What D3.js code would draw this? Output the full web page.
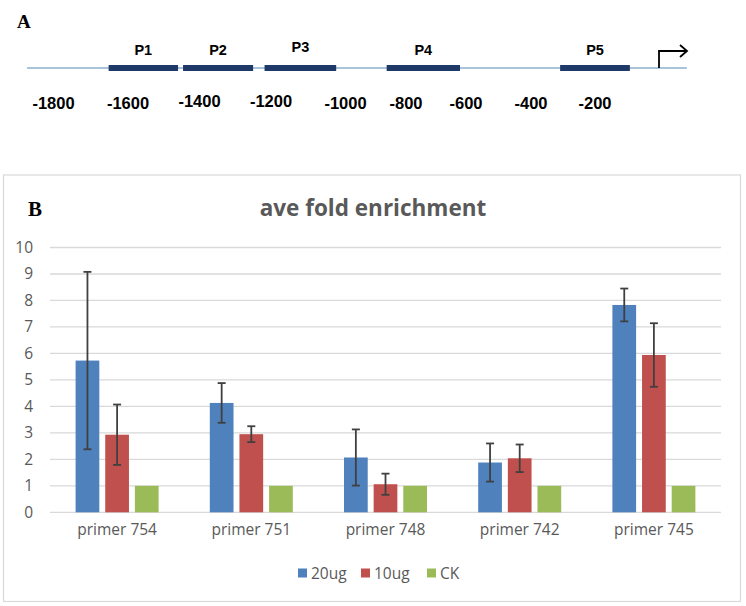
<!DOCTYPE html>
<html>
<head>
<meta charset="utf-8">
<script src="https://cdn.jsdelivr.net/npm/d3@7"></script>
<style>
html,body{margin:0;padding:0;background:#fff;}
svg{display:block;}
</style>
</head>
<body>
<svg id="chart" width="746" height="606"></svg>
<script>
// ---------- Panel A data ----------
const genomeTicks = [-1800, -1600, -1400, -1200, -1000, -800, -600, -400, -200];
const primerNames = ["P1", "P2", "P3", "P4", "P5"];
const primerStart = [-1652, -1446, -1218, -864, -309];
const primerEnd   = [-1460, -1250, -1025, -620, -91];
const regionStart = -1871, regionEnd = 87, tss = 0;

// ---------- Panel B data ----------
const categories = ["primer 754", "primer 751", "primer 748", "primer 742", "primer 745"];
const seriesNames = ["20ug", "10ug", "CK"];
const values20 = [5.73, 4.13, 2.07, 1.88, 7.83];
const values10 = [2.93, 2.95, 1.06, 2.04, 5.94];
const valuesCK = [1, 1, 1, 1, 1];
const err20 = [3.35, 0.75, 1.06, 0.72, 0.62];
const err10 = [1.14, 0.30, 0.40, 0.52, 1.20];
const errCK = [0, 0, 0, 0, 0];
const yTicks = [0, 1, 2, 3, 4, 5, 6, 7, 8, 9, 10];
const colors = ["#4f81bd", "#c0504d", "#9bbb59"];

const svg = d3.select("#chart");

// ================= Panel A =================
// schematic (non-uniform) coordinate mapping
const gx = d3.scaleLinear()
  .domain([-1800, -1600, -1400, -1200, -1000, -800, -600, -400, -200, 0])
  .range([53.5, 128, 199.5, 271, 345.5, 406, 466, 531, 595, 659]);
const lineY = 68;

svg.append("text").attr("x", 17).attr("y", 28)
  .attr("font-family", "Liberation Serif, Times New Roman, serif")
  .attr("font-weight", "bold").attr("font-size", 19).attr("fill", "#000").text("A");

svg.append("line")
  .attr("x1", gx(regionStart)).attr("x2", gx(regionEnd))
  .attr("y1", lineY).attr("y2", lineY)
  .attr("stroke", "#a9c3d8").attr("stroke-width", 2);

const primers = primerNames.map((n, i) => ({name: n, s: primerStart[i], e: primerEnd[i]}));
svg.selectAll("rect.primer").data(primers).enter().append("rect")
  .attr("class", "primer")
  .attr("x", d => gx(d.s)).attr("width", d => gx(d.e) - gx(d.s))
  .attr("y", lineY - 3).attr("height", 6)
  .attr("fill", "#1f3a68");

svg.selectAll("text.plabel").data(primers).enter().append("text")
  .attr("class", "plabel")
  .attr("x", d => (gx(d.s) + gx(d.e)) / 2)
  .attr("y", (d, i) => i === 2 ? 52 : 55)
  .attr("text-anchor", "middle")
  .attr("font-family", "Liberation Sans, Arial, sans-serif")
  .attr("font-weight", "bold").attr("font-size", 14.5).attr("fill", "#000")
  .text(d => d.name);

svg.selectAll("text.gtick").data(genomeTicks).enter().append("text")
  .attr("class", "gtick")
  .attr("x", d => gx(d))
  .attr("y", d => (d === -1400 || d === -1200) ? 107 : 109)
  .attr("text-anchor", "middle")
  .attr("font-family", "Liberation Sans, Arial, sans-serif")
  .attr("font-weight", "bold").attr("font-size", 16.5).attr("fill", "#000")
  .text(d => d);

// TSS arrow
const ax = gx(tss);
svg.append("path")
  .attr("d", `M${ax},${lineY} V${51} H${ax + 27}`)
  .attr("fill", "none").attr("stroke", "#000").attr("stroke-width", 1.8);
svg.append("path")
  .attr("d", `M${ax + 21},${45} L${ax + 28},${51} L${ax + 21},${57}`)
  .attr("fill", "none").attr("stroke", "#000").attr("stroke-width", 1.8);

// ================= Panel B =================
svg.append("rect")
  .attr("x", 3.5).attr("y", 175).attr("width", 737).attr("height", 426.5)
  .attr("fill", "#fff").attr("stroke", "#d9d9d9").attr("stroke-width", 1.2);

svg.append("text").attr("x", 28).attr("y", 216)
  .attr("font-family", "Liberation Serif, Times New Roman, serif")
  .attr("font-weight", "bold").attr("font-size", 21).attr("fill", "#000").text("B");

svg.append("text").attr("x", 373).attr("y", 216)
  .attr("text-anchor", "middle")
  .attr("font-family", "Open Sans, sans-serif")
  .attr("font-weight", "bold").attr("font-size", 22.5).attr("fill", "#595959")
  .text("ave fold enrichment");

const plotL = 50, plotR = 721;
const y = d3.scaleLinear().domain([0, 10]).range([512.3, 247.5]);
const x0 = d3.scaleBand().domain(categories).range([plotL, plotR]).padding(0);
const groupW = 83;
const x1 = d3.scaleBand().domain(seriesNames).range([0, groupW]).paddingInner(0.2).paddingOuter(0);

// gridlines
svg.append("g").selectAll("line").data(yTicks).enter().append("line")
  .attr("x1", plotL).attr("x2", plotR)
  .attr("y1", d => y(d)).attr("y2", d => y(d))
  .attr("stroke", "#d9d9d9").attr("stroke-width", 1.3);

// y tick labels
const yAxis = d3.axisLeft(y).tickValues(yTicks).tickSize(0).tickPadding(0);
const ya = svg.append("g").attr("transform", "translate(33,0)").call(yAxis);
ya.select(".domain").remove();
ya.selectAll("text").attr("font-family", "Open Sans, sans-serif")
  .attr("font-size", 15.5).attr("fill", "#595959");

// x labels
const xAxis = d3.axisBottom(x0).tickSize(0).tickPadding(0);
const xa = svg.append("g").attr("transform", "translate(0,524)").call(xAxis);
xa.select(".domain").remove();
xa.selectAll("text").attr("font-family", "Open Sans, sans-serif")
  .attr("font-size", 15.5).attr("fill", "#595959");

const allVals = [values20, values10, valuesCK];
const allErr = [err20, err10, errCK];
const rows = [];
categories.forEach((c, i) => {
  seriesNames.forEach((s, j) => {
    rows.push({cat: c, ser: s, v: allVals[j][i], e: allErr[j][i], color: colors[j]});
  });
});

const groups = svg.append("g");
const off = d => x0(d.cat) + (x0.bandwidth() - groupW) / 2 + x1(d.ser);
groups.selectAll("rect").data(rows).enter().append("rect")
  .attr("x", d => off(d)).attr("width", x1.bandwidth())
  .attr("y", d => y(d.v)).attr("height", d => y(0) - y(d.v))
  .attr("fill", d => d.color);

// error bars
const eb = svg.append("g").selectAll("g").data(rows.filter(d => d.e > 0)).enter().append("g")
  .attr("stroke", "#404040").attr("stroke-width", 1.8).attr("fill", "none");
eb.append("line")
  .attr("x1", d => off(d) + x1.bandwidth() / 2).attr("x2", d => off(d) + x1.bandwidth() / 2)
  .attr("y1", d => y(d.v + d.e)).attr("y2", d => y(d.v - d.e));
eb.append("line")
  .attr("x1", d => off(d) + x1.bandwidth() / 2 - 4).attr("x2", d => off(d) + x1.bandwidth() / 2 + 4)
  .attr("y1", d => y(d.v + d.e)).attr("y2", d => y(d.v + d.e));
eb.append("line")
  .attr("x1", d => off(d) + x1.bandwidth() / 2 - 4).attr("x2", d => off(d) + x1.bandwidth() / 2 + 4)
  .attr("y1", d => y(d.v - d.e)).attr("y2", d => y(d.v - d.e));

// legend
const legendX = [298, 361, 427];
const leg = svg.append("g").selectAll("g").data(seriesNames).enter().append("g")
  .attr("transform", (d, i) => `translate(${legendX[i]},573)`);
leg.append("rect").attr("x", 0).attr("y", -4.5).attr("width", 9).attr("height", 9)
  .attr("fill", (d, i) => colors[i]);
leg.append("text").attr("x", 13).attr("y", 5.5)
  .attr("font-family", "Open Sans, sans-serif").attr("font-size", 15.5).attr("fill", "#595959")
  .text(d => d);
</script>
</body>
</html>
